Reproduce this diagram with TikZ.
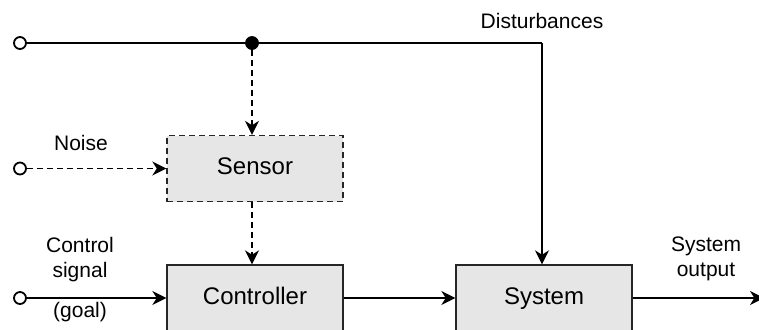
\documentclass[tikz,border=0pt]{standalone}
\usepackage{fontspec}
\setmainfont{Liberation Sans}
\usepackage{tikz}
\usetikzlibrary{positioning,arrows.meta,calc}
\definecolor{boxgrey}{HTML}{E6E6E6}
\tikzset{
    every node/.style={font=\fontsize{10.5}{12.5}\selectfont},
    blockbox/.style={rectangle,draw=black!85,fill=boxgrey,line width=0.65pt,minimum width=88pt,minimum height=33pt,inner sep=0pt,text height=1.6ex,text depth=0.45ex,font=\fontsize{12}{14}\selectfont},
    dashbox/.style={blockbox,dash pattern=on 3pt off 2pt},
    terminal/.style={circle,draw=black,fill=white,line width=0.9pt,minimum size=6pt,inner sep=0pt},
    junction/.style={circle,draw=black,fill=black,minimum size=6.5pt,inner sep=0pt},
    lbl/.style={align=center,inner sep=0pt},
    sig/.style={draw,line width=0.9pt,-{Stealth[length=7pt,width=7pt,inset=2.2pt]}},
    sigdash/.style={sig,dash pattern=on 3pt off 2pt}
}

\begin{document}
\begin{tikzpicture}[x=0.5pt,y=-0.5pt]
\useasboundingbox (0,0) rectangle (759,329);
% blocks
\node[dashbox] (sensor) at (255,168.5) {Sensor};
\node[blockbox] (ctrl) at (255,298) {Controller};
\node[blockbox] (sys) at (544,298) {System};
% inputs and junctions
\node[terminal] (distin) at (20,43) {};
\node[junction] (tap) at (252,43) {};
\coordinate (bend) at (542,43);
\node[terminal] (noisein) at (20,168.5) {};
\node[terminal] (goalin) at (20,298) {};
\coordinate (out) at (764,298);
% labels
\node[lbl] (distlbl) at (542,21) {Disturbances};
\node[lbl] (noiselbl) at (81,143) {Noise};
\node[lbl] (ctrllbl) at (80,260) {Control\\signal};
\node[lbl] (goallbl) at (80,312) {(goal)};
\node[lbl] (outlbl) at (706,259) {System\\output};
% connectors
\draw[line width=0.9pt] (distin) -- (tap) -- (bend);
\draw[sig] (bend) -- (bend |- sys.north);
\draw[sigdash] (tap) -- (tap |- sensor.north);
\draw[sigdash] (noisein) -- (sensor.west);
\draw[sigdash] (tap |- sensor.south) -- (tap |- ctrl.north);
\draw[sig] (goalin) -- (ctrl.west);
\draw[sig] (ctrl) -- (sys);
\draw[sig] (sys) -- (out);
\end{tikzpicture}
\end{document}
